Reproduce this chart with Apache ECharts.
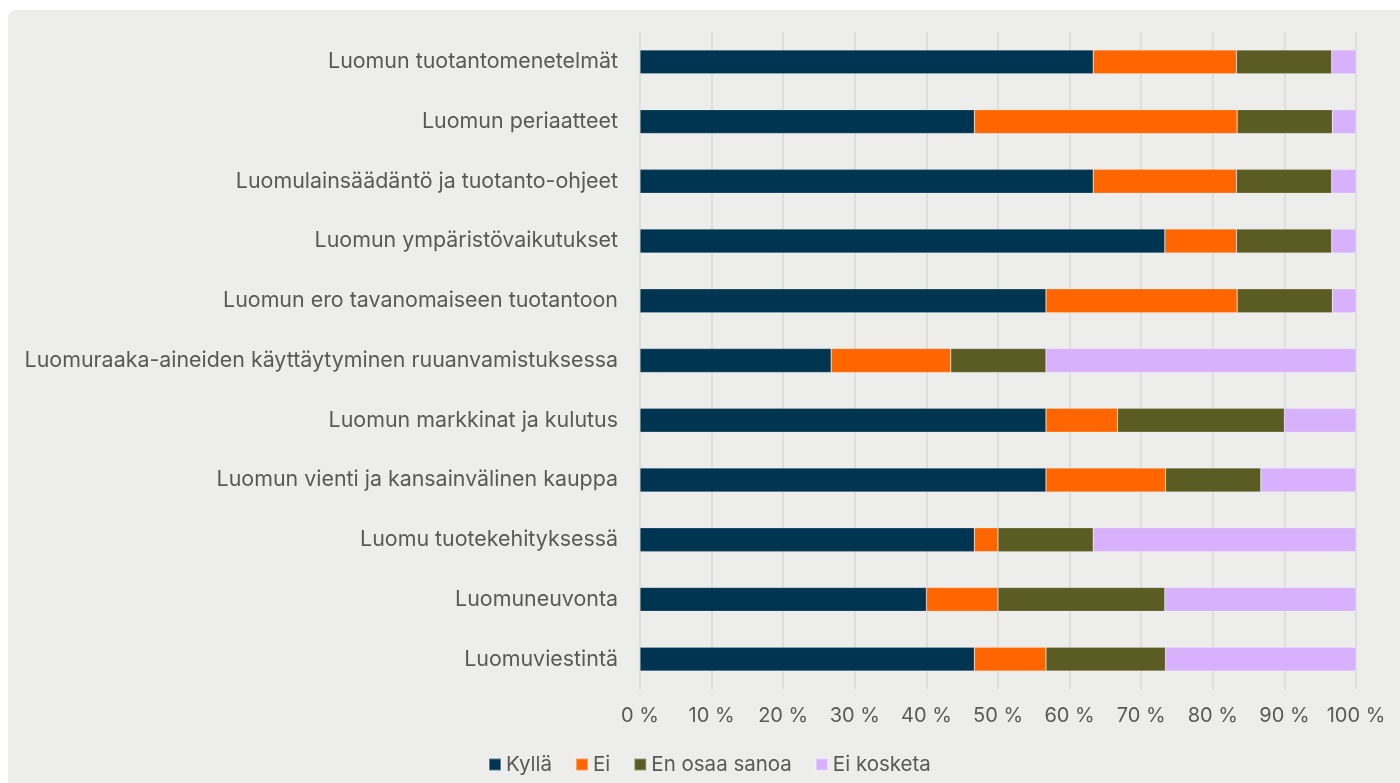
<!DOCTYPE html>
<html>
<head>
	<meta charset="UTF-8">
	<title>Luomu</title>
	<style type="text/css">
		html, body { margin: 0; padding: 0; background: #ffffff; }
		#panel { position: absolute; left: 8px; top: 10px; width: 1392px; height: 773px; background: #ededeb; border-radius: 8px 0 0 0; }
		#chart { position: absolute; left: 0; top: 0; width: 1400px; height: 783px; }
	</style>
	<script src="https://cdn.jsdelivr.net/npm/echarts@6/dist/echarts.min.js"></script>
</head>
<body>
	<div id="panel"></div>
	<div id="chart"></div>

<script type="text/javascript">
var categories = [
	'Luomun tuotantomenetelmät',
	'Luomun periaatteet',
	'Luomulainsäädäntö ja tuotanto-ohjeet',
	'Luomun ympäristövaikutukset',
	'Luomun ero tavanomaiseen tuotantoon',
	'Luomuraaka-aineiden käyttäytyminen ruuanvamistuksessa',
	'Luomun markkinat ja kulutus',
	'Luomun vienti ja kansainvälinen kauppa',
	'Luomu tuotekehityksessä',
	'Luomuneuvonta',
	'Luomuviestintä'
];
var kylla      = [63.3, 46.7, 63.3, 73.3, 56.7, 26.7, 56.7, 56.7, 46.7, 40.0, 46.7];
var ei         = [20.0, 36.7, 20.0, 10.0, 26.7, 16.7, 10.0, 16.7,  3.3, 10.0, 10.0];
var enOsaa     = [13.3, 13.3, 13.3, 13.3, 13.3, 13.3, 23.3, 13.3, 13.3, 23.3, 16.7];
var eiKosketa  = [ 3.4,  3.3,  3.4,  3.4,  3.3, 43.3, 10.0, 13.3, 36.7, 26.7, 26.6];
var xTicks = [0, 10, 20, 30, 40, 50, 60, 70, 80, 90, 100];

var seriesNames = ['Kyllä', 'Ei', 'En osaa sanoa', 'Ei kosketa'];
var seriesColors = ['#003551', '#ff6600', '#5a5c23', '#d7b1fc'];
var seriesData = [kylla, ei, enOsaa, eiKosketa];

var chart = echarts.init(document.getElementById('chart'));

//每个系列
var series = [];
for (var i = 0; i < seriesNames.length; i++) {
	series.push({
		name: seriesNames[i],
		type: 'bar',
		stack: 'total',
		barWidth: 24,
		data: seriesData[i],
		itemStyle: {
			color: seriesColors[i],
			borderColor: 'rgba(255,255,255,0.35)',
			borderWidth: 0.6
		}
	});
}

var option = {
	animation: false,
	textStyle: { fontFamily: 'Inter' },
	grid: {
		left: 640,
		right: 44,
		top: 32,
		bottom: 94
	},
	legend: {
		data: seriesNames,
		left: 483,
		top: 749,
		icon: 'rect',
		itemWidth: 12,
		itemHeight: 12,
		itemGap: 23,
		itemTextGap: 3,
		textStyle: { color: '#595959', fontSize: 20.5, fontFamily: 'Inter' }
	},
	xAxis: {
		type: 'value',
		min: xTicks[0],
		max: xTicks[xTicks.length - 1],
		interval: 10,
		axisLine: { show: false },
		axisTick: { show: false },
		axisLabel: {
			color: '#595959',
			fontSize: 20,
			margin: 17,
			formatter: '{value} %'
		},
		splitLine: { lineStyle: { color: '#d9d9d9', width: 1.5 } }
	},
	yAxis: {
		type: 'category',
		inverse: true,
		data: categories,
		axisLine: { show: false },
		axisTick: { show: false },
		axisLabel: {
			color: '#595959',
			fontSize: 21.4,
			margin: 22
		}
	},
	series: series
};
chart.setOption(option);
</script>
</body>
</html>
